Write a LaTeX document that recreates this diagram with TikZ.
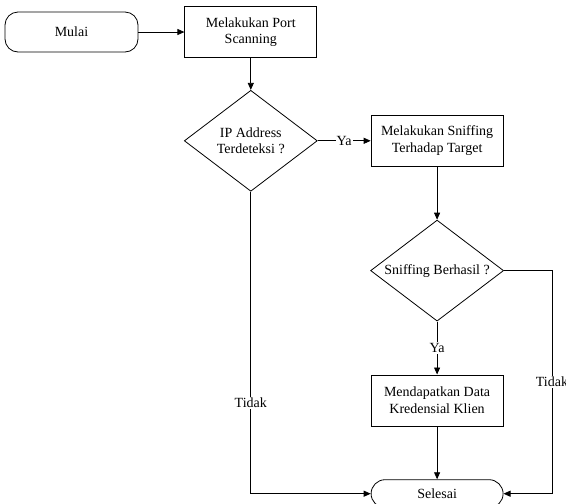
\documentclass[tikz,border=0pt]{standalone}
\usepackage{fontspec}
\setmainfont{Liberation Serif}
\usetikzlibrary{shapes.geometric, arrows.meta, positioning}

\begin{document}
\begin{tikzpicture}[
    x=1pt, y=1pt,
    node distance=53pt,
    terminal/.style={rectangle, rounded corners=13pt, draw, fill=white, line width=0.8pt,
                minimum width=133pt, minimum height=40pt,
                font=\fontsize{14}{16.5}\selectfont, align=center},
    process/.style={rectangle, draw, fill=white, line width=0.8pt,
                minimum width=132pt, minimum height=51pt,
                font=\fontsize{14}{16.5}\selectfont, align=center},
    decision/.style={diamond, draw, fill=white, line width=0.8pt, aspect=1.4, inner sep=0pt,
                minimum width=133pt, minimum height=101pt,
                font=\fontsize{14}{16.5}\selectfont, align=center},
    lbl/.style={fill=white, inner sep=1pt, font=\fontsize{14}{16.5}\selectfont},
    arrow/.style={-{Triangle[length=7pt, width=6pt]}, line width=0.8pt}
]
    \useasboundingbox (0,0) rectangle (566,-504);

    % Start
    \node[terminal] (mulai) at (71.5,-32) {Mulai};
    \node[process, right=46pt of mulai] (portscan) {Melakukan Port\\Scanning};

    % First decision
    \node[decision, below=32pt of portscan] (ipcheck) {IP Address\\Terdeteksi ?};
    \node[process, right=of ipcheck] (sniff) {Melakukan Sniffing\\Terhadap Target};

    % Second decision
    \node[decision, below=of sniff] (sniffcheck) {Sniffing Berhasil ?};
    \node[process, below=of sniffcheck] (kredensial) {Mendapatkan Data\\Kredensial Klien};

    % End
    \node[terminal, below=of kredensial, minimum width=132pt, minimum height=28pt,
          rounded corners=14pt] (selesai) {Selesai};

    \coordinate[right=48pt of sniffcheck.east] (belok);

    % Arrows
    \draw[arrow] (mulai) -- (portscan);
    \draw[arrow] (portscan) -- (ipcheck);
    \draw[arrow] (ipcheck) -- node[lbl] {Ya} (sniff);
    \draw[arrow] (sniff) -- (sniffcheck);
    \draw[arrow] (sniffcheck) -- node[lbl] {Ya} (kredensial);
    \draw[arrow] (kredensial) -- (selesai);
    \draw[arrow] (ipcheck.south) |- node[lbl, pos=0.35] {Tidak} (selesai.west);
    \draw[arrow] (sniffcheck.east) -- (belok) |- node[lbl, pos=0.25] {Tidak} (selesai.east);
\end{tikzpicture}
\end{document}
